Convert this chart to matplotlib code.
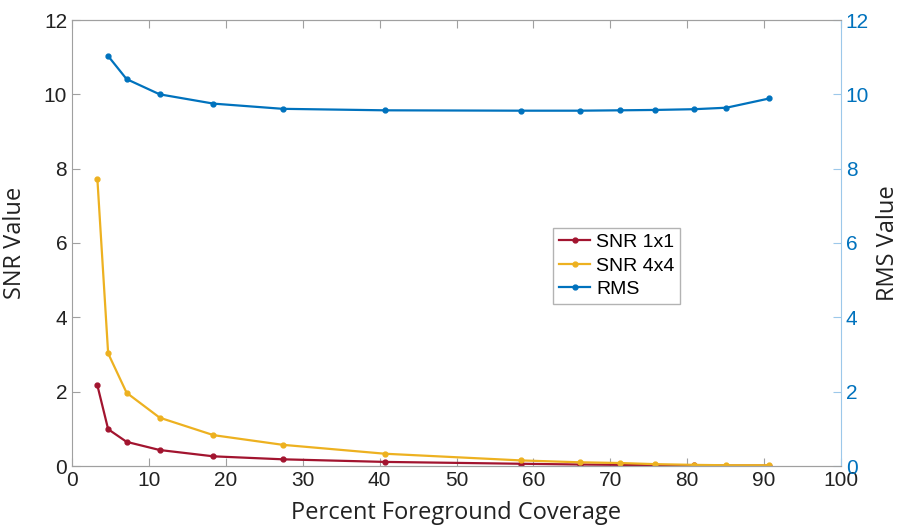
import matplotlib.pyplot as plt
import numpy as np

# data
x_snr = [3.3, 4.7, 7.1, 11.4, 18.4, 27.4, 40.7, 58.4, 66.0, 71.3, 75.8, 80.9, 85.1, 90.7]
snr1 = [2.17, 0.99, 0.65, 0.43, 0.26, 0.18, 0.11, 0.06, 0.04, 0.03, 0.02, 0.015, 0.01, 0.01]
snr4 = [7.72, 3.03, 1.97, 1.30, 0.83, 0.57, 0.33, 0.15, 0.10, 0.08, 0.05, 0.03, 0.02, 0.02]
x_rms = [4.7, 7.1, 11.4, 18.4, 27.4, 40.7, 58.4, 66.0, 71.3, 75.8, 80.9, 85.1, 90.7]
rms = [11.03, 10.41, 10.0, 9.75, 9.61, 9.57, 9.56, 9.56, 9.57, 9.58, 9.60, 9.64, 9.89]

c1 = "#A2142F"
c4 = "#EDB120"
cr = "#0072BD"
grey = "#A0A0A0"

plt.rcParams['font.family'] = ['Liberation Sans', 'DejaVu Sans']

fig = plt.figure(figsize=(9.01, 5.28), dpi=100)
ax = fig.add_axes([72/901, 1-466/528, (841-72)/901, (466-20)/528])
ax2 = ax.twinx()

l1, = ax.plot(x_snr, snr1, '-o', color=c1, ms=3.5, lw=1.6, label="SNR 1x1")
l4, = ax.plot(x_snr, snr4, '-o', color=c4, ms=3.5, lw=1.6, label="SNR 4x4")
lr, = ax2.plot(x_rms, rms, '-o', color=cr, ms=3.5, lw=1.6, label="RMS")

ax.set_xlim(0, 100)
ax.set_ylim(0, 12)
ax2.set_ylim(0, 12)
ax.set_xticks(np.arange(0, 101, 10))
ax.set_yticks(np.arange(0, 13, 2))
ax2.set_yticks(np.arange(0, 13, 2))

ax.tick_params(axis='both', direction='in', labelsize=15, colors=grey, labelcolor='#222222', length=6, top=True)
ax2.tick_params(axis='y', direction='in', labelsize=15, colors='#9cc8ea', labelcolor=cr, length=6)

for s in ['left', 'bottom', 'top']:
    ax.spines[s].set_color(grey)
    ax2.spines[s].set_color(grey)
ax.spines['right'].set_visible(False)
ax2.spines['left'].set_visible(False)
ax2.spines['right'].set_color('#9cc8ea')

ax.set_xlabel("Percent Foreground Coverage", fontsize=17, family='Open Sans', color='#222222', labelpad=8)
ax.set_ylabel("SNR Value", fontsize=17, family='Open Sans', color='#222222', labelpad=12)
ax2.set_ylabel("RMS Value", fontsize=17, family='Open Sans', color='#222222', labelpad=5)

leg = ax.legend(handles=[l1, l4, lr], loc='upper left', bbox_to_anchor=(0.613, 0.556),
                fontsize=14, frameon=True, fancybox=False, edgecolor=grey,
                handlelength=1.6, handletextpad=0.3, borderpad=0.3, labelspacing=0.3)
leg.get_frame().set_linewidth(1.0)

fig.savefig("out.png", dpi=100)
